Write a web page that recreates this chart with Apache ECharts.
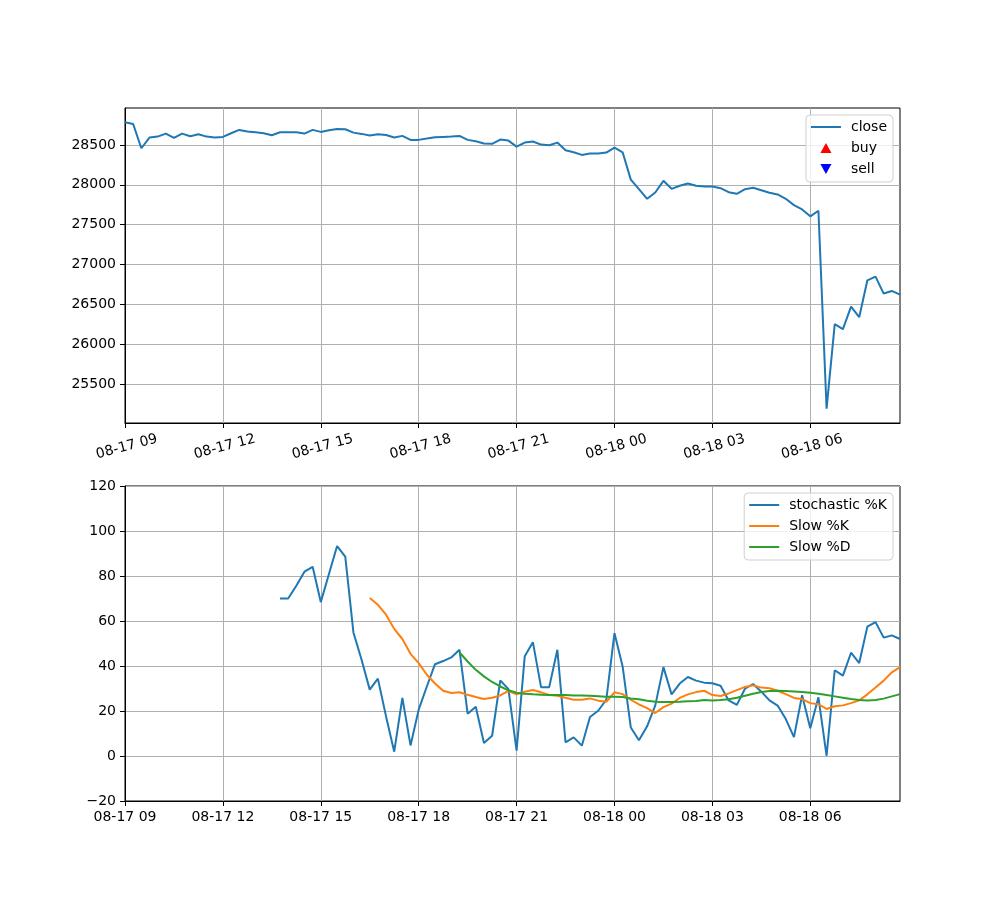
<!DOCTYPE html>
<html>
<head>
<meta charset="utf-8">
<script src="https://cdn.jsdelivr.net/npm/echarts@6/dist/echarts.min.js"></script>
<style>
html,body{margin:0;padding:0;background:#fff;}
#chart{width:1000px;height:900px;}
</style>
</head>
<body>
<div id="chart"></div>
<script>
// ---- data ----
const startMonthDay = '08-17';
const nextMonthDay = '08-18';
const startHour = 9;
const nPoints = 96;           // 15-minute bars
const stepMinutes = 15;

const closeValues = [
  28783, 28762, 28458, 28592, 28604, 28642, 28588, 28642, 28608, 28633,
  28604, 28592, 28600, 28646, 28688, 28667, 28658, 28646, 28621, 28658,
  28658, 28658, 28642, 28688, 28663, 28683, 28700, 28696, 28654, 28638,
  28617, 28633, 28625, 28592, 28613, 28563, 28563, 28579, 28596, 28600,
  28604, 28613, 28563, 28546, 28517, 28513, 28567, 28554, 28479, 28529,
  28542, 28504, 28496, 28529, 28433, 28408, 28375, 28392, 28392, 28404,
  28465, 28408, 28065, 27946, 27825, 27904, 28050, 27950, 27988, 28017,
  27988, 27979, 27979, 27958, 27908, 27888, 27946, 27963, 27933, 27900,
  27879, 27825, 27746, 27692, 27605, 27675, 25196, 26254, 26192, 26475,
  26342, 26804, 26850, 26638, 26671, 26625
];

const stochKStart = 19;
const stochKValues = [
  70.0, 70.0, 75.7, 81.9, 84.1, 68.4, 80.9, 93.3, 88.6, 54.9,
  42.8, 29.5, 34.4, 17.6, 1.9, 25.8, 4.7, 20.6, 30.9, 40.8,
  42.2, 43.8, 47.2, 18.8, 21.9, 5.8, 9.0, 33.6, 29.7, 2.4,
  44.3, 50.6, 30.6, 30.6, 47.2, 6.1, 8.3, 4.6, 17.3, 20.1,
  25.0, 54.6, 39.8, 12.7, 7.0, 13.2, 22.5, 39.5, 27.4, 32.2,
  35.1, 33.5, 32.6, 32.3, 31.2, 24.7, 22.7, 29.9, 32.0, 28.6,
  24.7, 22.4, 16.4, 8.4, 27.0, 12.3, 26.1, 0.1, 38.1, 35.7,
  45.9, 41.3, 57.5, 59.5, 52.6, 53.6, 52.0
];

const slowKStart = 30;
const slowKValues = [
  70.2, 67.2, 62.8, 56.5, 52.0, 45.4, 41.3, 36.1, 32.2, 29.0,
  28.0, 28.3, 27.2, 26.2, 25.3, 25.9, 26.9, 28.9, 27.4, 28.6,
  29.3, 28.3, 27.1, 26.8, 25.9, 25.0, 25.0, 25.6, 24.6, 24.1,
  28.3, 27.5, 25.0, 22.9, 21.3, 19.1, 21.7, 23.3, 25.8, 27.4,
  28.4, 29.0, 27.1, 26.7, 27.8, 29.3, 30.7, 31.4, 30.4, 30.1,
  29.0, 27.5, 25.8, 25.3, 23.5, 23.0, 20.9, 22.1, 22.5, 23.5,
  24.7, 27.4, 30.4, 33.5, 37.2, 39.5
];

const slowDStart = 41;
const slowDValues = [
  46.0, 42.0, 38.3, 35.4, 32.9, 30.9, 29.2, 28.1, 27.7, 27.4,
  27.2, 27.1, 27.1, 27.1, 26.9, 26.9, 26.8, 26.6, 26.3, 26.3,
  26.2, 25.6, 25.2, 24.6, 24.1, 24.0, 24.0, 24.1, 24.3, 24.4,
  24.9, 24.7, 24.9, 25.2, 25.9, 26.8, 27.7, 28.4, 28.9, 29.0,
  28.9, 28.7, 28.4, 28.1, 27.7, 27.1, 26.5, 25.9, 25.3, 24.9,
  24.7, 24.9, 25.5, 26.5, 27.5
];

const priceTicks = [25500, 26000, 26500, 27000, 27500, 28000, 28500];
const priceMin = 25016.65, priceMax = 28962.35;
const stochTicks = { min: -20, max: 120, interval: 20 };

// ---- build category times ----
function pad(n){ return (n < 10 ? '0' : '') + n; }
const times = [];
for (let i = 0; i < nPoints; i++) {
  const totalMin = startHour * 60 + i * stepMinutes;
  const day = totalMin >= 24 * 60 ? nextMonthDay : startMonthDay;
  const m = totalMin % (24 * 60);
  times.push(day + ' ' + pad(Math.floor(m / 60)) + ':' + pad(m % 60));
}
function expand(start, vals) {
  const out = new Array(nPoints).fill(null);
  vals.forEach((v, k) => { out[start + k] = v; });
  return out;
}

const C1 = '#1f77b4', C2 = '#ff7f0e', C3 = '#2ca02c';
const FONT = 'DejaVu Sans';
const minusFmt = v => String(v).replace('-', '\u2212');
const LINE_ICON = 'path://M0,0 L30,0 L30,2 L0,2 Z';
const DOWN_TRI = 'path://M0,0 L10,0 L5,9 Z';
const UP_TRI = 'path://M5,0 L10,9 L0,9 Z';

function makeX(gridIndex, rotate) {
  return {
    type: 'category', gridIndex: gridIndex, data: times, boundaryGap: false,
    axisLine: { show: true, onZero: false, lineStyle: { color: '#000', width: 1 } },
    axisTick: { show: true, interval: 11, length: 5, lineStyle: { color: '#000' } },
    splitLine: { show: true, interval: 11, lineStyle: { color: '#b0b0b0', width: 1 } },
    axisLabel: {
      interval: 11, color: '#000', fontFamily: FONT, fontSize: 14,
      rotate: rotate, margin: rotate ? 17 : 9,
      align: 'center', verticalAlign: 'top',
      formatter: function (v) { return v.slice(0, 8); }
    }
  };
}

function makeLegend(top, items) {
  return {
    orient: 'vertical', right: 107, top: top,
    itemWidth: 30, itemHeight: 10, itemGap: 7,
    backgroundColor: 'rgba(255,255,255,0.8)', borderColor: '#d0d0d0', borderWidth: 1,
    borderRadius: 4, padding: [5, 6, 6, 5],
    textStyle: { fontFamily: FONT, fontSize: 14, color: '#000', lineHeight: 14, padding: [0, 0, 0, 5] },
    data: items
  };
}

const option = {
  animation: false,
  backgroundColor: '#fff',
  grid: [
    { left: 125, right: 100, top: 108, height: 315, show: true, borderColor: '#000', borderWidth: 1, backgroundColor: 'transparent' },
    { left: 125, right: 100, top: 486, height: 315, show: true, borderColor: '#000', borderWidth: 1, backgroundColor: 'transparent' }
  ],
  xAxis: [ makeX(0, 15), makeX(1, 0) ],
  yAxis: [
    {
      type: 'value', gridIndex: 0, min: priceMin, max: priceMax,
      axisLine: { show: true, onZero: false, lineStyle: { color: '#000' } },
      axisTick: { show: true, length: 5, lineStyle: { color: '#000' }, customValues: priceTicks },
      axisLabel: { color: '#000', fontFamily: FONT, fontSize: 14, margin: 9, customValues: priceTicks,
                   formatter: function (v) { return String(Math.round(v)); } },
      splitLine: { show: true, lineStyle: { color: '#b0b0b0', width: 1 } }
    },
    {
      type: 'value', gridIndex: 1, min: stochTicks.min, max: stochTicks.max, interval: stochTicks.interval,
      axisLine: { show: true, onZero: false, lineStyle: { color: '#000' } },
      axisTick: { show: true, length: 5, lineStyle: { color: '#000' } },
      axisLabel: { color: '#000', fontFamily: FONT, fontSize: 14, margin: 9, formatter: minusFmt },
      splitLine: { show: true, lineStyle: { color: '#b0b0b0', width: 1 } }
    }
  ],
  legend: [
    makeLegend(115, [
      { name: 'close', icon: LINE_ICON },
      { name: 'buy', icon: UP_TRI },
      { name: 'sell', icon: DOWN_TRI }
    ]),
    makeLegend(493, [
      { name: 'stochastic %K', icon: LINE_ICON },
      { name: 'Slow %K', icon: LINE_ICON },
      { name: 'Slow %D', icon: LINE_ICON }
    ])
  ],
  series: [
    { name: 'close', type: 'line', xAxisIndex: 0, yAxisIndex: 0, data: closeValues,
      showSymbol: false, symbol: 'none', lineStyle: { color: C1, width: 2 }, itemStyle: { color: C1 } },
    { name: 'buy', type: 'scatter', xAxisIndex: 0, yAxisIndex: 0, data: [],
      symbol: UP_TRI, itemStyle: { color: '#ff0000', opacity: 1 } },
    { name: 'sell', type: 'scatter', xAxisIndex: 0, yAxisIndex: 0, data: [],
      symbol: DOWN_TRI, itemStyle: { color: '#0000ff', opacity: 1 } },
    { name: 'stochastic %K', type: 'line', xAxisIndex: 1, yAxisIndex: 1, data: expand(stochKStart, stochKValues),
      showSymbol: false, symbol: 'none', lineStyle: { color: C1, width: 2 }, itemStyle: { color: C1 } },
    { name: 'Slow %K', type: 'line', xAxisIndex: 1, yAxisIndex: 1, data: expand(slowKStart, slowKValues),
      showSymbol: false, symbol: 'none', lineStyle: { color: C2, width: 2 }, itemStyle: { color: C2 } },
    { name: 'Slow %D', type: 'line', xAxisIndex: 1, yAxisIndex: 1, data: expand(slowDStart, slowDValues),
      showSymbol: false, symbol: 'none', lineStyle: { color: C3, width: 2 }, itemStyle: { color: C3 } }
  ]
};

const chart = echarts.init(document.getElementById('chart'), null, { renderer: 'canvas' });
chart.setOption(option);
</script>
</body>
</html>
